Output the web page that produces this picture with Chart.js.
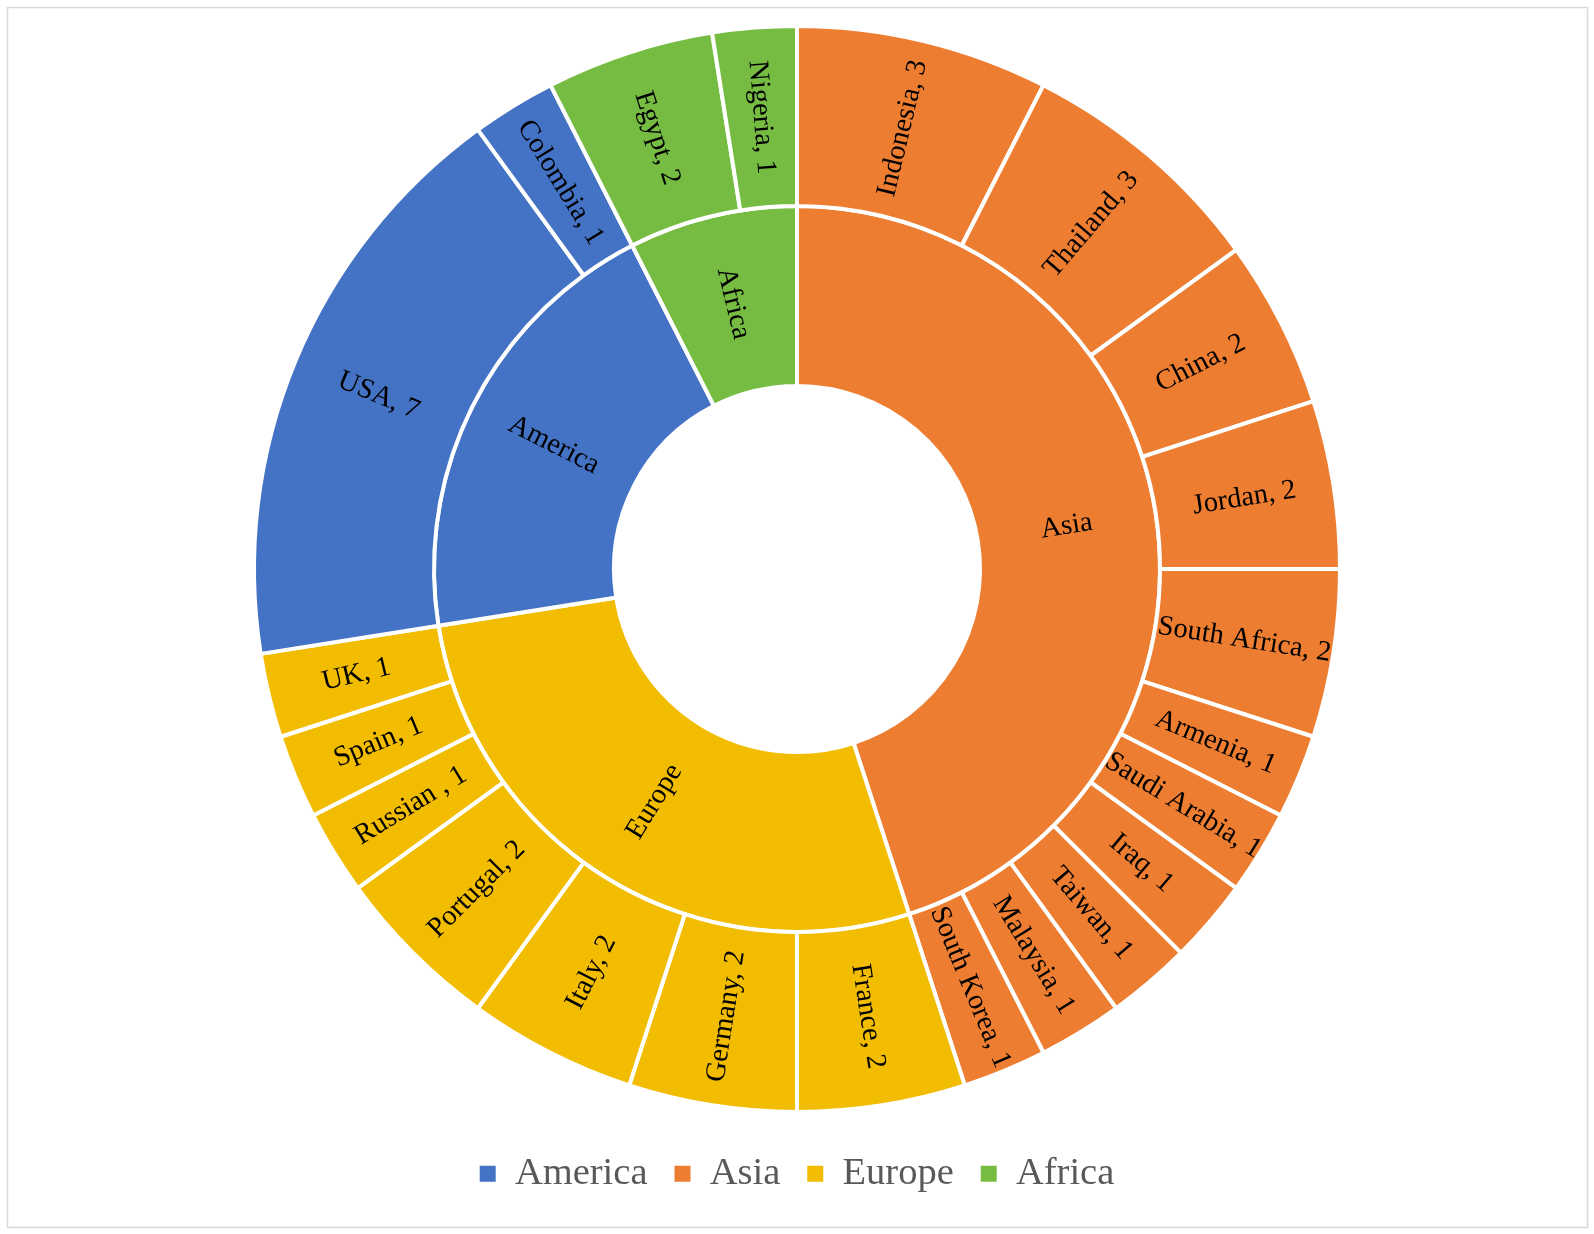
<!DOCTYPE html>
<html>
<head>
<meta charset="utf-8">
<script src="https://cdn.jsdelivr.net/npm/chart.js@4.4.0/dist/chart.umd.min.js"></script>
<style>
html, body { margin: 0; padding: 0; background: #fff; }
</style>
</head>
<body>
<canvas id="myChart" width="1594" height="1234"></canvas>
<script>
"use strict";

//Inner ring: continents, clockwise from the top.
var continents = ['Asia', 'Europe', 'America', 'Africa'];
var continentCounts = [18, 11, 8, 3];
var continentColors = ['#ED7D31', '#F2BC00', '#4472C4', '#76BC43'];
var legendOrder = ['America', 'Asia', 'Europe', 'Africa'];

//Outer ring: countries, same order.
var countries = ['Indonesia', 'Thailand', 'China', 'Jordan', 'South Africa', 'Armenia', 'Saudi Arabia', 'Iraq', 'Taiwan', 'Malaysia', 'South Korea',
    'France', 'Germany', 'Italy', 'Portugal', 'Russian ', 'Spain', 'UK',
    'USA', 'Colombia',
    'Egypt', 'Nigeria'];
var countryCounts = [3, 3, 2, 2, 2, 1, 1, 1, 1, 1, 1,
    2, 2, 2, 2, 1, 1, 1,
    7, 1,
    2, 1];
var countryContinent = ['Asia', 'Asia', 'Asia', 'Asia', 'Asia', 'Asia', 'Asia', 'Asia', 'Asia', 'Asia', 'Asia',
    'Europe', 'Europe', 'Europe', 'Europe', 'Europe', 'Europe', 'Europe',
    'America', 'America',
    'Africa', 'Africa'];

var countryColors = countryContinent.map(function (c) { return continentColors[continents.indexOf(c)]; });
var countryLabels = countries.map(function (c, i) { return c + ', ' + countryCounts[i]; });
var ringTexts = [countryLabels, continents];

//Writes the names along the radius, flipped on the left half so they stay readable.
var ringLabels = {
    id: 'ringLabels',
    afterDatasetsDraw: function (chart) {
        var ctx = chart.ctx;
        ctx.save();
        ctx.font = '28.5px "Liberation Serif", "Times New Roman", serif';
        ctx.fillStyle = '#000';
        ctx.textAlign = 'center';
        ctx.textBaseline = 'middle';
        chart.data.datasets.forEach(function (ds, di) {
            var meta = chart.getDatasetMeta(di);
            meta.data.forEach(function (arc, i) {
                var p = arc.getProps(['x', 'y', 'startAngle', 'endAngle', 'innerRadius', 'outerRadius'], true);
                var a = (p.startAngle + p.endAngle) / 2;
                var r = (p.innerRadius + p.outerRadius) / 2;
                var rot = Math.cos(a) >= 0 ? a : a + Math.PI;
                ctx.save();
                ctx.translate(p.x + Math.cos(a) * r, p.y + Math.sin(a) * r);
                ctx.rotate(rot);
                ctx.fillText(ringTexts[di][i], 0, 0);
                ctx.restore();
            });
        });
        ctx.restore();
    }
};

//White page and thin grey frame.
var frame = {
    id: 'frame',
    beforeDraw: function (chart) {
        var ctx = chart.ctx;
        ctx.save();
        ctx.fillStyle = '#fff';
        ctx.fillRect(0, 0, chart.width, chart.height);
        ctx.strokeStyle = '#d9d9d9';
        ctx.lineWidth = 1.5;
        ctx.strokeRect(7.5, 7.5, 1580, 1220);
        ctx.restore();
    }
};

var ctx = document.getElementById('myChart').getContext('2d');
var myChart = new Chart(ctx, {
    type: 'doughnut',
    data: {
        labels: countries,
        datasets: [{
            data: countryCounts,
            backgroundColor: countryColors,
            borderColor: '#fff',
            borderWidth: 4,
            hoverBorderWidth: 4
        }, {
            data: continentCounts,
            backgroundColor: continentColors,
            borderColor: '#fff',
            borderWidth: 4,
            hoverBorderWidth: 4
        }]
    },
    options: {
        responsive: false,
        animation: false,
        events: [],
        cutout: '33.7%',
        layout: {
            padding: { top: 14, bottom: 31, left: 252, right: 252 }
        },
        plugins: {
            tooltip: { enabled: false },
            legend: {
                position: 'bottom',
                //empty title only pushes the legend row down a little
                title: { display: true, text: ' ', font: { size: 3 }, padding: 0 },
                labels: {
                    boxWidth: 16,
                    boxHeight: 16,
                    padding: 27,
                    color: '#595959',
                    font: { family: '"Liberation Serif", "Times New Roman", serif', size: 38.5 },
                    generateLabels: function () {
                        return legendOrder.map(function (name) {
                            var k = continents.indexOf(name);
                            return {
                                text: name,
                                fillStyle: continentColors[k],
                                strokeStyle: 'rgba(0,0,0,0)',
                                lineWidth: 0,
                                fontColor: '#595959',
                                hidden: false,
                                index: k
                            };
                        });
                    }
                }
            }
        }
    },
    plugins: [frame, ringLabels]
});
</script>
</body>
</html>
